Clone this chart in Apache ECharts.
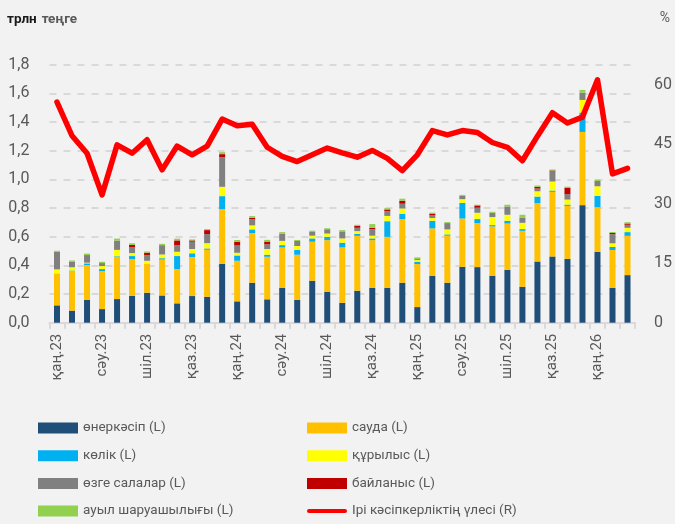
<!DOCTYPE html>
<html>
<head>
<meta charset="utf-8">
<script src="https://cdn.jsdelivr.net/npm/echarts@6/dist/echarts.min.js"></script>
<style>
  html, body { margin: 0; padding: 0; background: #F2F2F2; }
  #chart { width: 675px; height: 524px; }
</style>
</head>
<body>
<div id="chart"></div>
<script>
const FONT = "Roboto, 'Noto Sans', sans-serif";

// ай белгілері (қаң.23 – нау.26)
const months = [
  'қаң.23','ақп.23','нау.23','сәу.23','мам.23','мау.23','шіл.23','там.23','қыр.23','қаз.23','қар.23','жел.23',
  'қаң.24','ақп.24','нау.24','сәу.24','мам.24','мау.24','шіл.24','там.24','қыр.24','қаз.24','қар.24','жел.24',
  'қаң.25','ақп.25','нау.25','сәу.25','мам.25','мау.25','шіл.25','там.25','қыр.25','қаз.25','қар.25','жел.25',
  'қаң.26','ақп.26','нау.26'
];

const industry = [0.121,0.084,0.16,0.095,0.165,0.188,0.209,0.19,0.135,0.186,0.181,0.411,0.149,0.279,0.163,0.244,0.16,0.293,0.216,0.139,0.223,0.244,0.244,0.279,0.109,0.328,0.279,0.39,0.388,0.328,0.369,0.251,0.427,0.462,0.446,0.82,0.495,0.242,0.332];
const trade = [0.223,0.276,0.242,0.265,0.295,0.256,0.204,0.251,0.239,0.272,0.328,0.381,0.283,0.346,0.297,0.281,0.314,0.272,0.36,0.386,0.383,0.332,0.355,0.444,0.30,0.33,0.328,0.337,0.307,0.344,0.323,0.39,0.407,0.451,0.369,0.511,0.311,0.265,0.274];
const transport = [0,0.004,0.012,0.014,0.004,0.021,0,0.009,0.091,0.026,0.009,0.091,0.037,0.026,0.014,0.016,0.033,0.023,0.023,0.033,0.014,0.012,0.109,0.037,0.016,0.053,0.009,0.109,0.028,0.009,0.019,0.012,0.046,0.009,0.009,0.135,0.079,0.021,0.026];
const construction = [0.028,0.023,0.005,0.021,0.044,0.021,0.019,0.026,0.03,0.03,0.037,0.065,0.019,0.028,0.04,0.03,0.028,0.019,0.023,0.03,0.019,0.019,0.037,0.037,0.012,0.019,0.035,0.026,0.044,0.056,0.042,0.044,0.037,0.063,0.035,0.088,0.067,0.026,0.03];
const other = [0.123,0.04,0.053,0.021,0.065,0.042,0.04,0.065,0.046,0.051,0.063,0.207,0.051,0.044,0.033,0.049,0.035,0.026,0.03,0.049,0.023,0.046,0.033,0.033,0.007,0.019,0.044,0.023,0.035,0.03,0.058,0.037,0.019,0.07,0.037,0.051,0.037,0.063,0.021];
const comm = [0,0,0,0,0,0.014,0.016,0,0.033,0.009,0.028,0.021,0.026,0.009,0.019,0,0,0,0,0,0.014,0.009,0.012,0.021,0,0.012,0,0,0.016,0,0,0,0.012,0.007,0.044,0,0,0.009,0.009];
const agri = [0.007,0.007,0.01,0.009,0.014,0.012,0.009,0.009,0.012,0.007,0.007,0.014,0.012,0.012,0.012,0.012,0.007,0.009,0.007,0.009,0.007,0.026,0.009,0.014,0.012,0.007,0.007,0.007,0.005,0.007,0.012,0.019,0.009,0.007,0.009,0.019,0.009,0.007,0.009];
// Ірі кәсіпкерліктің үлесі, %
const share = [55.6,47.1,42.7,32.2,44.8,42.7,46.1,38.5,44.5,42.3,44.5,51.3,49.6,50.0,44.2,41.9,40.6,42.3,44.0,42.8,41.7,43.4,41.4,38.3,42.3,48.4,47.3,48.4,47.9,45.4,44.2,40.8,47.0,52.9,50.3,51.8,61.2,37.5,38.9];

const barNames = ['өнеркәсіп (L)','сауда (L)','көлік (L)','құрылыс (L)','өзге салалар (L)','байланыс (L)','ауыл шаруашылығы (L)'];
const barData = [industry, trade, transport, construction, other, comm, agri];
const barColors = ['#1F4E79','#FFC000','#00B0F0','#FFFF00','#808080','#C00000','#92D050'];
const lineName = 'Ірі кәсіпкерліктің үлесі (R)';

const chart = echarts.init(document.getElementById('chart'));

const series = barNames.map((n, i) => ({
  name: n,
  type: 'bar',
  stack: 'total',
  barWidth: 6,
  data: barData[i],
  itemStyle: { color: barColors[i] }
}));
series.push({
  name: lineName,
  type: 'line',
  yAxisIndex: 1,
  data: share,
  symbol: 'none',
  z: 5,
  lineStyle: { color: '#FF0000', width: 5.5, join: 'round', cap: 'round' },
  itemStyle: { color: '#FF0000' }
});

const legendText = { fontFamily: FONT, fontSize: 13.5, color: '#595959', lineHeight: 16 };

chart.setOption({
  backgroundColor: '#F2F2F2',
  animation: false,
  title: [{
    text: '{a|трлн} {b|теңге}',
    left: 7, top: 11, padding: 0,
    textStyle: {
      rich: {
        a: { fontFamily: FONT, fontSize: 13.5, fontWeight: 'bold', color: '#1a1a1a' },
        b: { fontFamily: FONT, fontSize: 13.5, color: '#595959' }
      }
    }
  }, {
    text: '%',
    right: 5, top: 11, padding: 0,
    textStyle: { fontFamily: FONT, fontSize: 14, fontWeight: 'normal', color: '#595959' }
  }],
  grid: { left: 49.5, right: 36.6, top: 64.7, height: 258 },
  legend: [{
    orient: 'vertical', left: 38, top: 420, padding: 0,
    itemWidth: 40, itemHeight: 11, itemGap: 11.7,
    data: [barNames[0], barNames[2], barNames[4], barNames[6]].map(n => ({ name: n, icon: 'rect' })),
    textStyle: legendText
  }, {
    orient: 'vertical', left: 307, top: 420, padding: 0,
    itemWidth: 40, itemHeight: 11, itemGap: 11.7,
    data: [
      { name: barNames[1], icon: 'rect' },
      { name: barNames[3], icon: 'rect' },
      { name: barNames[5], icon: 'rect' },
      { name: lineName, icon: 'path://M2,0 L38,0 A2,2 0 0 1 38,4 L2,4 A2,2 0 0 1 2,0 Z' }
    ],
    textStyle: legendText
  }],
  xAxis: {
    type: 'category',
    data: months,
    axisLine: { lineStyle: { color: '#D9D9D9', width: 2 } },
    axisTick: { show: true, interval: 0, length: 6, lineStyle: { color: '#D9D9D9', width: 2 } },
    axisLabel: { interval: 2, rotate: 90, margin: 11, fontFamily: FONT, fontSize: 15, color: '#595959' }
  },
  yAxis: [{
    type: 'value',
    min: 0, max: 1.8, interval: 0.2,
    axisLabel: {
      margin: 20, fontFamily: FONT, fontSize: 16, color: '#595959',
      formatter: v => v.toFixed(1).replace('.', ',')
    },
    axisLine: { show: false },
    axisTick: { show: false },
    splitLine: { lineStyle: { color: '#D9D9D9', width: 2, type: [7, 7] } }
  }, {
    type: 'value',
    min: 0, max: 65, interval: 15,
    position: 'right',
    axisLabel: { margin: 19, fontFamily: FONT, fontSize: 16, color: '#595959', showMaxLabel: false },
    axisLine: { show: false },
    axisTick: { show: false },
    splitLine: { show: false }
  }],
  series: series
});
</script>
</body>
</html>
